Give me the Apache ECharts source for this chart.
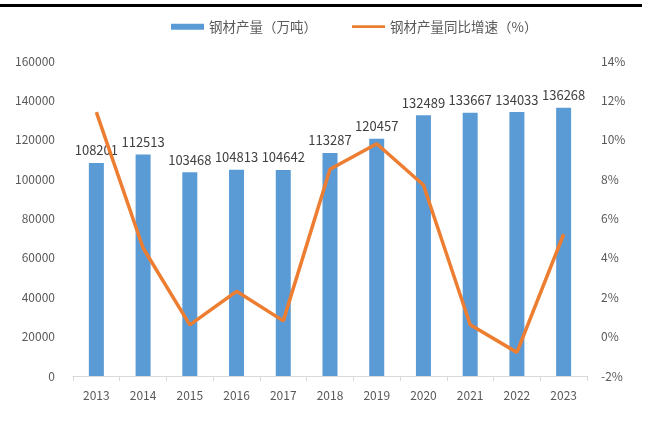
<!DOCTYPE html>
<html>
<head>
	<meta charset="utf-8">
	<title>钢材产量</title>
	<style>
		html, body { margin: 0; padding: 0; background: #fff; }
		#chart1 { width: 653px; height: 421px; }
	</style>
</head>
<body>
	<div id="chart1"></div>

	<script src="https://cdn.jsdelivr.net/npm/echarts@6/dist/echarts.min.js"></script>
	<script type="text/javascript">

    var years = ['2013','2014','2015','2016','2017','2018','2019','2020','2021','2022','2023'];
    var output = [108201, 112513, 103468, 104813, 104642, 113287, 120457, 132489, 133667, 134033, 136268];
    var growth = [11.4, 4.5, 0.6, 2.3, 0.8, 8.5, 9.8, 7.7, 0.6, -0.8, 5.2];

    var font = '"Noto Sans CJK SC", "Liberation Sans", sans-serif';
    var gray = '#595959';

    var myChart = echarts.init(document.getElementById('chart1'));
    var option = {
        animation: false,
        textStyle: { fontFamily: font },
        graphic: [
            { type: 'rect', shape: { x: 0, y: 4, width: 642, height: 3 }, style: { fill: '#000' } }
        ],
        legend: {
            top: 15,
            left: 166,
            itemGap: 35,
            itemWidth: 33,
            itemHeight: 6,
            textStyle: { color: gray, fontSize: 13.5, fontFamily: font },
            data: [
                { name: '钢材产量（万吨）', icon: 'rect' },
                { name: '钢材产量同比增速（%）', icon: 'path://M0,0L36,0L36,3L0,3Z' }
            ]
        },
        grid: { left: 73, right: 66, top: 61, bottom: 45, containLabel: false },
        xAxis: {
            type: 'category',
            data: years,
            axisLine: { lineStyle: { color: '#d9d9d9' } },
            axisTick: { show: true, alignWithLabel: false, length: 5, lineStyle: { color: '#d9d9d9' } },
            axisLabel: { color: gray, fontSize: 12, margin: 13 }
        },
        yAxis: [
            {
                type: 'value',
                min: 0, max: 160000, interval: 20000,
                splitLine: { show: false },
                axisLine: { show: false },
                axisTick: { show: false },
                axisLabel: { color: gray, fontSize: 12, margin: 18, formatter: function (v) { return String(v); } }
            },
            {
                type: 'value',
                min: -2, max: 14, interval: 2,
                splitLine: { show: false },
                axisLine: { show: false },
                axisTick: { show: false },
                axisLabel: { color: gray, fontSize: 12, margin: 14, formatter: '{value}%' }
            }
        ],
        series: [
            {
                name: '钢材产量（万吨）',
                type: 'bar',
                barWidth: 15,
                itemStyle: { color: '#5B9BD5' },
                label: { show: true, position: 'top', color: '#404040', fontSize: 13, distance: 6 },
                data: output
            },
            {
                name: '钢材产量同比增速（%）',
                type: 'line',
                yAxisIndex: 1,
                symbol: 'none',
                lineStyle: { color: '#ED7D31', width: 3.5 },
                itemStyle: { color: '#ED7D31' },
                data: growth
            }
        ]
    };
    myChart.setOption(option, true);

	</script>
</body>
</html>
